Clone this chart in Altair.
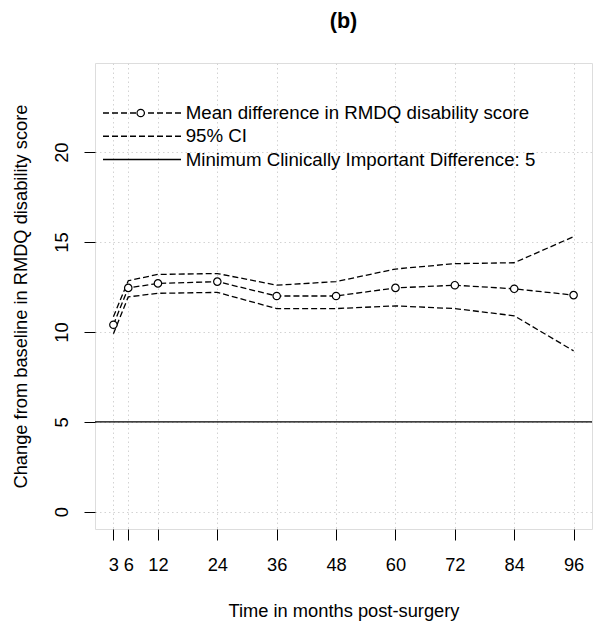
import altair as alt
import pandas as pd

# ---- data ----
months = [3, 6, 12, 24, 36, 48, 60, 72, 84, 96]
mean_diff = [10.4, 12.45, 12.7, 12.8, 12.0, 12.0, 12.45, 12.6, 12.4, 12.05]
ci_lower = [9.9, 11.95, 12.15, 12.2, 11.3, 11.3, 11.45, 11.3, 10.9, 8.95]
ci_upper = [10.85, 12.85, 13.2, 13.25, 12.6, 12.8, 13.5, 13.8, 13.85, 15.3]
mcid = [5]
x_ticks = [3, 6, 12, 24, 36, 48, 60, 72, 84, 96]
y_ticks = [0, 5, 10, 15, 20]
legend_labels = [
    "Mean difference in RMDQ disability score",
    "95% CI",
    "Minimum Clinically Important Difference: 5",
]
legend_rows = [0, 1, 2]

FONT = "Liberation Sans"
DASH = [6, 3]
LW = 1.3

df = pd.DataFrame({"month": months, "mean": mean_diff})
ci_df = pd.concat([
    pd.DataFrame({"month": months, "value": ci_lower, "bound": "lower"}),
    pd.DataFrame({"month": months, "value": ci_upper, "bound": "upper"}),
])
ref_df = pd.DataFrame({"y": mcid})
leg_df = pd.DataFrame({"label": legend_labels, "row": legend_rows})

xscale = alt.Scale(domain=[-0.72, 99.72], nice=False, zero=False)
yscale = alt.Scale(domain=[-0.96, 24.96], nice=False, zero=False)

common_axis = dict(
    grid=True, gridDash=[1.5, 3], gridColor="#D3D3D3", gridWidth=1,
    domain=False, tickColor="black", tickSize=11, tickWidth=1,
    labelFontSize=18.3, labelColor="black", labelFont=FONT,
    titleFont=FONT, titleFontSize=18.3, titleFontWeight="normal", titleColor="black",
    labelOverlap=False, labelFlush=False,
)

xaxis = alt.Axis(
    values=x_ticks, title="Time in months post-surgery",
    labelPadding=25, labelBaseline="middle", labelAlign="center",
    titleX=248.5, titleY=87, titleBaseline="alphabetic", titleAlign="center",
    **common_axis,
)
yaxis = alt.Axis(
    values=y_ticks, title="Change from baseline in RMDQ disability score",
    labelAngle=270, labelAlign="center", labelBaseline="middle", labelPadding=22,
    titleX=-69, titleY=233, titleAngle=270, titleAlign="center",
    titleBaseline="alphabetic",
    **common_axis,
)

ci = alt.Chart(ci_df).mark_line(stroke="black", strokeWidth=LW, strokeDash=DASH).encode(
    x=alt.X("month:Q", scale=xscale, axis=xaxis),
    y=alt.Y("value:Q", scale=yscale, axis=yaxis),
    detail="bound:N",
)
mean_line = alt.Chart(df).mark_line(stroke="black", strokeWidth=LW, strokeDash=DASH).encode(
    x=alt.X("month:Q", scale=xscale),
    y=alt.Y("mean:Q", scale=yscale),
)
mean_pts = alt.Chart(df).mark_point(
    shape="circle", size=55, fill="white", stroke="black", strokeWidth=1.2, opacity=1, filled=True
).encode(
    x=alt.X("month:Q", scale=xscale),
    y=alt.Y("mean:Q", scale=yscale),
)
ref = alt.Chart(ref_df).mark_rule(color="black", strokeWidth=LW).encode(
    y=alt.Y("y:Q", scale=yscale),
)

main = alt.layer(ci, mean_line, mean_pts, ref)

leg_y = alt.Y("row:Q", scale=alt.Scale(domain=[0, 2], range=[50, 96.5], nice=False, zero=False), axis=None)
leg_rule = alt.Chart(leg_df).mark_rule(color="black", strokeWidth=LW).encode(
    y=leg_y,
    x=alt.value(8),
    x2=alt.value(86),
    strokeDash=alt.StrokeDash(
        "label:N",
        scale=alt.Scale(domain=legend_labels, range=[DASH, DASH, [1, 0]]),
        legend=None,
    ),
)
leg_text = alt.Chart(leg_df).mark_text(
    align="left", baseline="middle", fontSize=18.7, font=FONT, color="black"
).encode(
    y=leg_y,
    x=alt.value(90.7),
    text="label:N",
)
leg_pt = alt.Chart(leg_df).transform_filter(
    alt.datum.row == 0
).mark_point(
    shape="circle", size=55, fill="white", stroke="black", strokeWidth=1.2, opacity=1, filled=True
).encode(
    y=leg_y,
    x=alt.value(45.7),
)
legend = alt.layer(leg_rule, leg_text, leg_pt)

chart = alt.layer(main, legend).resolve_scale(y="independent").properties(
    width=497,
    height=466,
    autosize=alt.AutoSizeParams(type="none"),
    padding={"left": 87, "top": 55, "right": 1, "bottom": 92},
    title=alt.TitleParams(
        "(b)", fontSize=21.6, fontWeight="bold", font=FONT, color="black",
        anchor="middle", baseline="alphabetic", offset=13,
    ),
).configure_view(
    stroke="#222222", strokeWidth=1.4
).configure(background="white")

chart.save("out.html", embed_options={"renderer": "svg", "actions": False})
